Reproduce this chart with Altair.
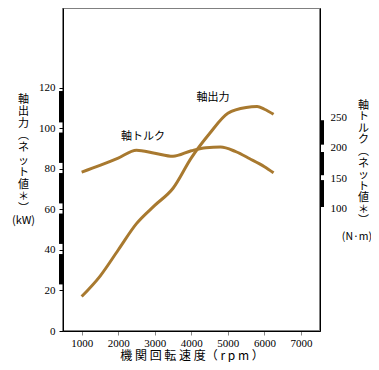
import altair as alt
import pandas as pd

# Engine speed (rpm) and shaft power (kW)
rpm_power = [1000, 1500, 2000, 2500, 3000, 3500, 4000, 4500, 5000, 5500, 5800, 6000, 6250]
power_kw = [17, 27, 40, 53, 62, 70.5, 85.5, 97.5, 107.5, 110.4, 110.8, 109.5, 107]

# Engine speed (rpm) and shaft torque (N·m)
rpm_torque = [1000, 1500, 2000, 2500, 3000, 3500, 4000, 4400, 4800, 5200, 5600, 6000, 6250]
torque_nm = [160, 171, 183, 196, 191, 186, 195, 200, 201, 194, 182, 169, 159]

# Decorative axis bars (value ranges)
left_bar_lo = [103, 83, 63, 43, 23]
left_bar_hi = [118.5, 98, 78, 58, 38]
right_bar_lo = [103, 155, 205]
right_bar_hi = [147, 193, 245]

# Annotations
ann_text = ["軸出力", "軸トルク"]
ann_rpm = [4590, 2680]
ann_kw = [115, 96]
right_unit = ["(N·m)"]

x_ticks = [1000, 2000, 3000, 4000, 5000, 6000, 7000]
left_ticks = [0, 20, 40, 60, 80, 100, 120]
right_ticks = [100, 150, 200, 250]

LINE_COLOR = "#A8792F"
FONT = "Noto Sans CJK JP"
NUM_FONT = "Liberation Sans Narrow"

power_df = pd.DataFrame({"rpm": rpm_power, "kW": power_kw})
torque_df = pd.DataFrame({"rpm": rpm_torque, "Nm": torque_nm})
lbar_df = pd.DataFrame({"lo": left_bar_lo, "hi": left_bar_hi})
rbar_df = pd.DataFrame({"lo": right_bar_lo, "hi": right_bar_hi})
ann_df = pd.DataFrame({"t": ann_text, "rpm": ann_rpm, "kW": ann_kw})
unit_df = pd.DataFrame({"t": right_unit})

x_scale = alt.Scale(domain=[490, 7520], nice=False, zero=False)
x_axis = alt.Axis(
    values=x_ticks, format="d", title="機 関 回 転 速 度（ r p m ）", titleFont=FONT,
    titleFontSize=12, titleFontWeight="normal", titlePadding=2,
    labelFont=NUM_FONT, labelFontSize=11, labelPadding=2, tickSize=4,
    tickColor="#888", domainColor="black", grid=False,
)

left_scale = alt.Scale(domain=[0, 159.5], nice=False, zero=False)
left_axis = alt.Axis(
    values=left_ticks, grid=False, domainColor="black", tickColor="black",
    tickSize=4, labelFont=NUM_FONT, labelFontSize=11, labelPadding=4,
    title=["軸", "出", "力", "︵", "ネ", "ッ", "ト", "値", "＊", "︶", "(kW)"],
    titleFont=FONT, titleFontSize=11, titleFontWeight="normal", titleAngle=0,
    titleAlign="center", titleBaseline="top", titleX=-40, titleY=85,
    titleLineHeight=12.2,
)

right_scale = alt.Scale(domain=[-100, 428.7], nice=False, zero=False)
right_axis = alt.Axis(
    orient="right", values=right_ticks, grid=False, domainColor="black",
    tickSize=0, labelFont=NUM_FONT, labelFontSize=11, labelPadding=10,
    title=["軸", "ト", "ル", "ク", "︵", "ネ", "ッ", "ト", "値", "＊", "︶"],
    titleFont=FONT, titleFontSize=11, titleFontWeight="normal", titleAngle=0,
    titleAlign="center", titleBaseline="top", titleX=43, titleY=91,
    titleLineHeight=11.6,
)

power_line = alt.Chart(power_df).mark_line(
    color=LINE_COLOR, strokeWidth=3, interpolate="monotone"
).encode(
    x=alt.X("rpm:Q", scale=x_scale, axis=x_axis),
    y=alt.Y("kW:Q", scale=left_scale, axis=left_axis),
)

left_bars = alt.Chart(lbar_df).mark_rule(color="black", strokeWidth=4).encode(
    x=alt.value(-2),
    y=alt.Y("lo:Q", scale=left_scale, axis=left_axis),
    y2="hi:Q",
)

ann = alt.Chart(ann_df).mark_text(font=FONT, fontSize=11, color="black").encode(
    x=alt.X("rpm:Q", scale=x_scale, axis=x_axis),
    y=alt.Y("kW:Q", scale=left_scale, axis=left_axis),
    text="t:N",
)

torque_line = alt.Chart(torque_df).mark_line(
    color=LINE_COLOR, strokeWidth=3, interpolate="monotone"
).encode(
    x=alt.X("rpm:Q", scale=x_scale, axis=x_axis),
    y=alt.Y("Nm:Q", scale=right_scale, axis=right_axis),
)

right_bars = alt.Chart(rbar_df).mark_rule(color="black", strokeWidth=4).encode(
    x=alt.value(259),
    y=alt.Y("lo:Q", scale=right_scale, axis=right_axis),
    y2="hi:Q",
)

unit_text = alt.Chart(unit_df).mark_text(
    font=FONT, fontSize=10.5, color="black", align="center", baseline="middle"
).encode(
    x=alt.value(294), y=alt.value(229), text="t:N"
)

left_group = alt.layer(power_line, left_bars, ann)
right_group = alt.layer(torque_line, right_bars)

chart = alt.layer(left_group, right_group, unit_text).resolve_scale(
    y="independent"
).properties(
    width=257, height=323,
    autosize=alt.AutoSizeParams(type="none"),
    padding={"left": 55, "top": 0, "right": 51, "bottom": 31},
    background="white",
).configure_view(
    stroke="#808080", strokeWidth=2
)

chart.save("out.html", embed_options={"renderer": "svg", "actions": False})
